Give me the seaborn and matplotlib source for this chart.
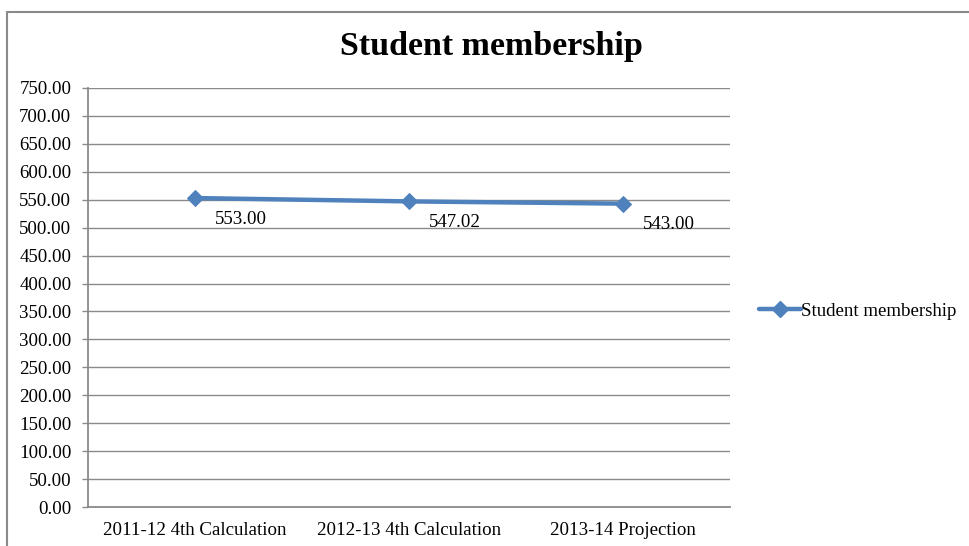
import matplotlib
matplotlib.use("Agg")
import matplotlib.pyplot as plt
from matplotlib.patches import Rectangle
from matplotlib.lines import Line2D
import seaborn as sns
import pandas as pd

categories = ["2011-12 4th Calculation", "2012-13 4th Calculation", "2013-14 Projection"]
membership = [553.00, 547.02, 543.00]
series_name = "Student membership"
y_ticks = [0, 50, 100, 150, 200, 250, 300, 350, 400, 450, 500, 550, 600, 650, 700, 750]

sns.set_theme(style="white")
plt.rcParams["font.family"] = ["Liberation Serif", "DejaVu Serif"]
plt.rcParams["text.color"] = "black"
plt.rcParams["xtick.color"] = "black"
plt.rcParams["ytick.color"] = "black"

line_color = "#4F81BD"
grid_color = "#8A8A8A"
fs = 13.6

df = pd.DataFrame({"pos": range(len(categories)), "value": membership})

fig = plt.figure(figsize=(9.69, 5.46), dpi=100)
ax = fig.add_axes([88 / 969, 1 - 507 / 546, (730 - 88) / 969, (507 - 88) / 546])

sns.lineplot(data=df, x="pos", y="value", ax=ax, color=line_color, linewidth=3.2,
             marker="D", markersize=8, markeredgecolor=line_color, legend=False, zorder=3)

ax.set_xlim(-0.5, len(categories) - 0.5)
ax.set_ylim(0, 750)
ax.set_yticks(y_ticks)
ax.set_yticklabels([f"{v:.2f}" for v in y_ticks], fontsize=fs)
ax.set_xticks(range(len(categories)))
ax.set_xticklabels(categories, fontsize=fs)
ax.set_xticks([i - 0.5 for i in range(len(categories) + 1)], minor=True)
ax.tick_params(axis="x", which="major", length=0, pad=11, labelcolor="black")
ax.tick_params(axis="x", which="minor", length=4, width=1, color=grid_color, direction="out")
ax.tick_params(axis="y", which="major", length=4.5, width=1, color=grid_color, direction="out",
               pad=7.5, left=True, labelcolor="black")
ax.set_xlabel("")
ax.set_ylabel("")

ax.yaxis.grid(True, color=grid_color, linewidth=1)
ax.xaxis.grid(False)
ax.set_axisbelow(True)
for side in ["top", "right"]:
    ax.spines[side].set_visible(False)
for side in ["left", "bottom"]:
    ax.spines[side].set_color(grid_color)
    ax.spines[side].set_linewidth(1.3)

for i, v in enumerate(membership):
    ax.annotate(f"{v:.2f}", (i, v), xytext=(14, -9), textcoords="offset points",
                ha="left", va="top", fontsize=fs, color="black")

fig.text(491 / 969, 1 - 47 / 546, series_name, ha="center", va="center",
         fontsize=24.5, fontweight="bold", color="black")

handle = Line2D([], [], color=line_color, linewidth=3.2, marker="D", markersize=8,
                markeredgecolor=line_color)
leg = fig.legend([handle], [series_name], loc="center left",
                 bbox_to_anchor=(759 / 969, 1 - 311 / 546),
                 frameon=False, fontsize=fs, handlelength=2.2, handletextpad=0.0,
                 borderpad=0, borderaxespad=0)
for t in leg.get_texts():
    t.set_color("black")

border = Rectangle((7 / 969, -0.05), 1.2, 1 - 12 / 546 + 0.05, transform=fig.transFigure,
                   fill=False, edgecolor="#8A8A8A", linewidth=1.5, clip_on=False)
fig.patches.append(border)

fig.savefig("out.png", dpi=100)
